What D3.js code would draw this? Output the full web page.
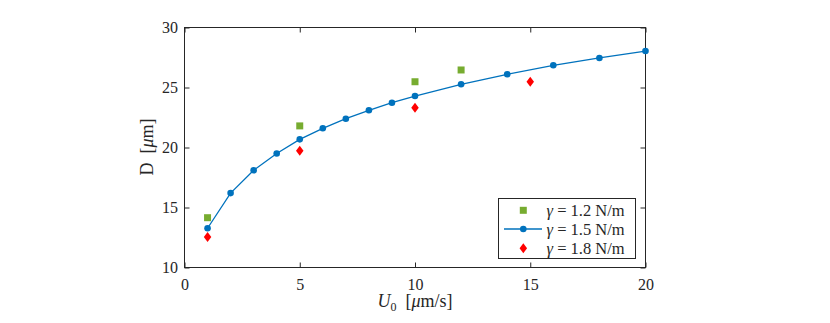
<!DOCTYPE html>
<html>
<head>
<meta charset="utf-8">
<script src="https://cdn.jsdelivr.net/npm/d3@7"></script>
<style>
  body { margin: 0; background: #fff; }
</style>
</head>
<body>
<svg id="chart" width="830" height="323"></svg>
<script>
// data
var u15 = [1, 2, 3, 4, 5, 6, 7, 8, 9, 10, 12, 14, 16, 18, 20];
var d15 = [13.27, 16.2, 18.1, 19.5, 20.68, 21.6, 22.4, 23.1, 23.73, 24.29, 25.27, 26.1, 26.85, 27.46, 28.04];
var u12 = [1, 5, 10, 12];
var d12 = [14.15, 21.8, 25.48, 26.46];
var u18 = [1, 5, 10, 15];
var d18 = [12.54, 19.73, 23.32, 25.48];
var xTicks = [0, 5, 10, 15, 20];
var yTicks = [10, 15, 20, 25, 30];
var legendLabels = ["\u03b3 = 1.2 N/m", "\u03b3 = 1.5 N/m", "\u03b3 = 1.8 N/m"];

var FONT = "'Liberation Serif', 'DejaVu Serif', serif";
var svg = d3.select("#chart");
var margin = {left: 184.5, right: 184.5, top: 27.5, bottom: 55.5};
var width = 830 - margin.left - margin.right,
    height = 323 - margin.top - margin.bottom;

var x = d3.scaleLinear().domain([0, 20]).range([0, width]);
var y = d3.scaleLinear().domain([10, 30]).range([height, 0]);

var g = svg.append("g").attr("transform", "translate(" + margin.left + "," + margin.top + ")");

// axes - ticks pointing inward, on all sides
function styleAxis(sel) {
    sel.attr("font-family", FONT);
    sel.select(".domain").remove();
    sel.selectAll("line").attr("stroke", "#262626");
    sel.selectAll("text").style("font-size", "16px").style("font-family", FONT).attr("fill", "#262626");
}
g.append("g").attr("transform", "translate(0," + height + ")")
    .call(d3.axisBottom(x).tickValues(xTicks).tickSizeInner(-5).tickSizeOuter(0).tickPadding(11))
    .call(styleAxis);
g.append("g")
    .call(d3.axisTop(x).tickValues(xTicks).tickSizeInner(-5).tickSizeOuter(0).tickFormat(""))
    .call(styleAxis);
g.append("g")
    .call(d3.axisLeft(y).tickValues(yTicks).tickSizeInner(-5).tickSizeOuter(0).tickPadding(6.5))
    .call(styleAxis);
g.append("g").attr("transform", "translate(" + width + ",0)")
    .call(d3.axisRight(y).tickValues(yTicks).tickSizeInner(-5).tickSizeOuter(0).tickFormat(""))
    .call(styleAxis);

g.append("rect").attr("width", width).attr("height", height)
    .attr("fill", "none").attr("stroke", "#262626").attr("stroke-width", 1);

// blue line + dots
var line = d3.line().x(function(d, i){ return x(u15[i]); }).y(function(d){ return y(d); });
g.append("path").datum(d15).attr("d", line)
    .attr("fill", "none").attr("stroke", "#0072BD").attr("stroke-width", 1.3);
g.selectAll(".dot").data(d15).enter().append("circle")
    .attr("cx", function(d, i){ return x(u15[i]); })
    .attr("cy", function(d){ return y(d); })
    .attr("r", 3.3).attr("fill", "#0072BD");

// green squares
var sq = d3.symbol().type(d3.symbolSquare).size(49);
g.selectAll(".sq").data(d12).enter().append("path")
    .attr("d", sq)
    .attr("transform", function(d, i){ return "translate(" + x(u12[i]) + "," + y(d) + ")"; })
    .attr("fill", "#77AC30");

// red diamonds
function diamond(w, h) {
    return "M0," + (-h/2) + "L" + (w/2) + ",0L0," + (h/2) + "L" + (-w/2) + ",0Z";
}
g.selectAll(".dm").data(d18).enter().append("path")
    .attr("d", diamond(7.5, 10))
    .attr("transform", function(d, i){ return "translate(" + x(u18[i]) + "," + y(d) + ")"; })
    .attr("fill", "#FF0000");

// axis labels
svg.append("text").attr("x", 415).attr("y", 307).attr("text-anchor", "middle")
    .style("font-size", "18px").style("font-family", FONT).attr("fill", "#262626")
    .html('<tspan font-style="italic">U</tspan><tspan font-size="12px" dy="4">0</tspan><tspan dy="-4">\u2002[</tspan><tspan font-style="italic">\u03bc</tspan><tspan>m/s]</tspan>');
svg.append("text").attr("transform", "translate(153,147) rotate(-90)").attr("text-anchor", "middle")
    .style("font-size", "18px").style("font-family", FONT).attr("fill", "#262626")
    .html('D\u2002[<tspan font-style="italic">\u03bc</tspan>m]');

// legend
var lg = svg.append("g").attr("transform", "translate(498.5,198.5)");
lg.append("rect").attr("width", 137).attr("height", 60)
    .attr("fill", "#fff").attr("stroke", "#262626").attr("stroke-width", 1);
var rows = [11.8, 30.5, 49.8];
lg.append("path").attr("d", sq).attr("transform", "translate(24.8," + rows[0] + ")").attr("fill", "#77AC30");
lg.append("line").attr("x1", 5.5).attr("x2", 43.5).attr("y1", rows[1]).attr("y2", rows[1])
    .attr("stroke", "#0072BD").attr("stroke-width", 1.3);
lg.append("circle").attr("cx", 24.8).attr("cy", rows[1]).attr("r", 3.3).attr("fill", "#0072BD");
lg.append("path").attr("d", diamond(7.5, 10)).attr("transform", "translate(24.8," + rows[2] + ")").attr("fill", "#FF0000");
lg.selectAll(".lt").data(legendLabels).enter().append("text")
    .attr("x", 48).attr("y", function(d, i){ return rows[i] + 5.5; })
    .style("font-size", "16.5px").style("font-family", FONT).attr("fill", "#262626")
    .html(function(d){
        var parts = d.split(" = ");
        return '<tspan font-style="italic">' + parts[0] + '</tspan>\u2005=\u2005' + parts[1];
    });
</script>
</body>
</html>
